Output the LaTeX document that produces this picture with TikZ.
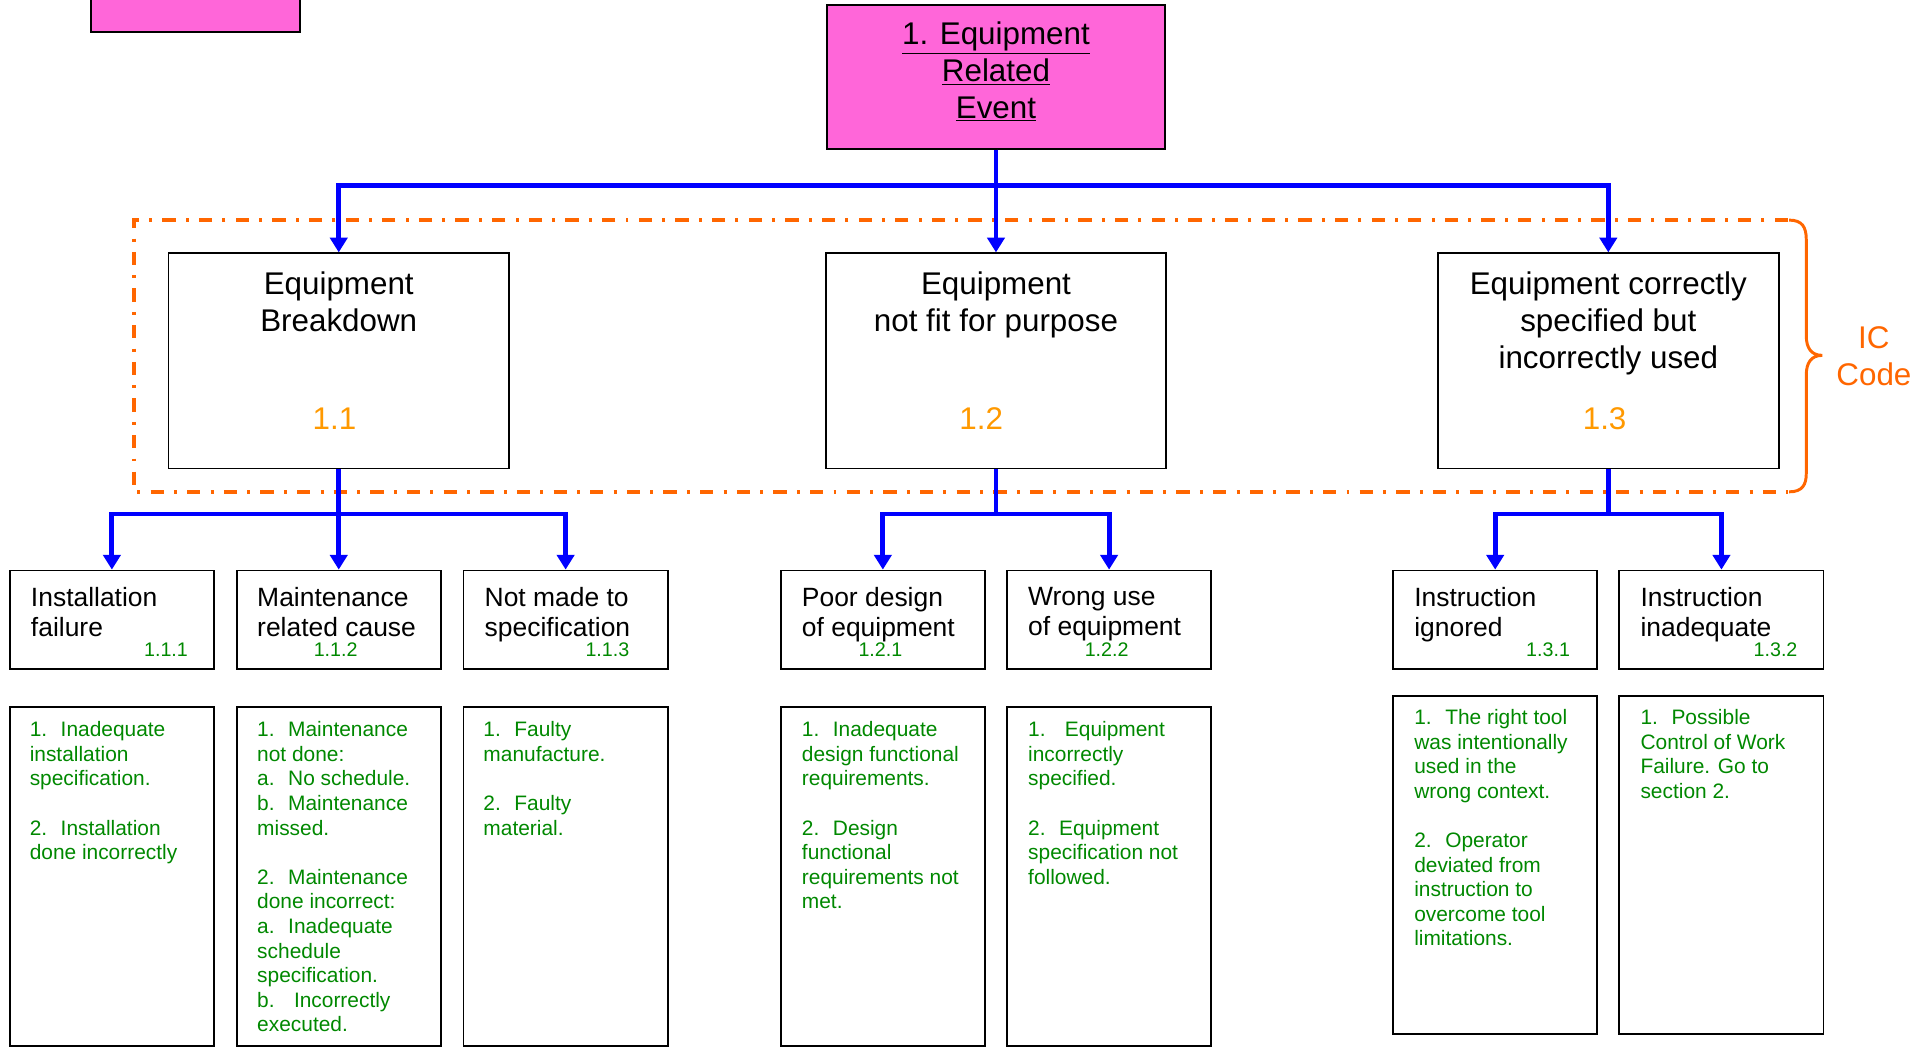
\documentclass[tikz,border=0pt]{standalone}
\usepackage{fontspec}
\setmainfont{Liberation Sans}
\usetikzlibrary{arrows.meta}

\definecolor{rootpink}{RGB}{255,102,217}
\definecolor{linkblue}{RGB}{0,0,255}
\definecolor{icorange}{RGB}{255,102,0}
\definecolor{codeorange}{RGB}{255,153,0}
\definecolor{notegreen}{RGB}{0,136,0}

\begin{document}
\begin{tikzpicture}[x=1pt, y=-1pt,
        box/.style={draw, line width=1.5pt, inner sep=0pt},
        mainbox/.style={box, minimum width=277pt, minimum height=175pt},
        causebox/.style={box, minimum width=166pt, minimum height=80pt},
        listbox/.style={box, minimum width=166pt, minimum height=276pt},
        link/.style={draw=linkblue, line width=4pt, -{Triangle[width=14pt,length=12pt]}},
        head/.style={anchor=north, align=center, inner sep=0pt, font=\fontsize{25.5}{30}\selectfont},
        cause/.style={anchor=north west, align=left, inner sep=0pt, font=\fontsize{21.5}{25}\selectfont},
        note/.style={anchor=north west, align=left, inner sep=0pt, text=notegreen, font=\fontsize{17}{20}\selectfont},
        code/.style={anchor=base, inner sep=0pt, text=notegreen, font=\fontsize{16}{19}\selectfont}]
        \useasboundingbox (0,0) rectangle (1568,852.3);

        % legend box
        \node[box, fill=rootpink, minimum width=170pt, minimum height=31pt] (legend) at (159,10.5) {};

        % root box
        \node[box, fill=rootpink, minimum width=275pt, minimum height=117pt] (root) at (810,62.5) {};
        \node[head] (roottext) at (810,17.8) {\underline{1. Equipment}\\\underline{Related}\\\underline{Event}};

        % IC code frame
        \draw[icorange, line width=2.7pt, dash pattern=on 10.8pt off 8.3pt on 2.4pt off 8.3pt]
            (1454,179) -- (109,179) -- (109,400) -- (1454,400);
        \draw[icorange, line width=2.4pt] (1455,179) .. controls (1466,179) and (1469,185) .. (1469,195)
            -- (1469,273) .. controls (1469,283) and (1473,289) .. (1482,289)
            .. controls (1473,289) and (1469,295) .. (1469,305)
            -- (1469,385) .. controls (1469,394) and (1466,400) .. (1455,400);
        \node[head, text=icorange] (iclabel) at (1524,265.8) {IC\\Code};

        % box 1.1
        \node[mainbox] (eb) at (275.5,293.5) {};
        \node[head] (ebtext) at (275.5,220.8) {Equipment\\Breakdown};
        \node[head, anchor=base, text=codeorange] (ebcode) at (272,349) {1.1};

        % box 1.2
        \node[mainbox] (enf) at (810,293.5) {};
        \node[head] (enftext) at (810,220.8) {Equipment\\not fit for purpose};
        \node[head, anchor=base, text=codeorange] (enfcode) at (798,349) {1.2};

        % box 1.3
        \node[mainbox] (ecs) at (1308,293.5) {};
        \node[head] (ecstext) at (1308,220.8) {Equipment correctly\\specified but\\incorrectly used};
        \node[head, anchor=base, text=codeorange] (ecscode) at (1305,349) {1.3};

        % links from root
        \coordinate (bus0) at (810,151);
        \draw[link] (root.south) -- (bus0) -| (eb.north);
        \draw[link] (root.south) -- (bus0) -| (ecs.north);
        \draw[link] (root.south) -- (enf.north);

        % causes 1.1.x
        \node[causebox] (c111) at (91,504) {};
        \node[cause] (c111text) at (25,477.2) {Installation\\failure};
        \node[code] (c111code) at (135,533.7) {1.1.1};
        \node[causebox] (c112) at (275.5,504) {};
        \node[cause] (c112text) at (209,477.2) {Maintenance\\related cause};
        \node[code] (c112code) at (273,533.7) {1.1.2};
        \node[causebox] (c113) at (460,504) {};
        \node[cause] (c113text) at (394,477.2) {Not made to\\specification};
        \node[code] (c113code) at (494,533.7) {1.1.3};

        % causes 1.2.x
        \node[causebox] (c121) at (718,504) {};
        \node[cause] (c121text) at (652,477.2) {Poor design\\of equipment};
        \node[code] (c121code) at (716,533.7) {1.2.1};
        \node[causebox] (c122) at (902,504) {};
        \node[cause] (c122text) at (836,477.2) {Wrong use\\of equipment};
        \node[code] (c122code) at (900,533.7) {1.2.2};

        % causes 1.3.x
        \node[causebox] (c131) at (1216,504) {};
        \node[cause] (c131text) at (1150,477.2) {Instruction\\ignored};
        \node[code] (c131code) at (1259,533.7) {1.3.1};
        \node[causebox] (c132) at (1400,504) {};
        \node[cause] (c132text) at (1334,477.2) {Instruction\\inadequate};
        \node[code] (c132code) at (1444,533.7) {1.3.2};

        % links to causes
        \coordinate (bus1) at (275.5,418);
        \draw[link] (eb.south) -- (bus1) -| (c111.north);
        \draw[link] (eb.south) -- (bus1) -| (c113.north);
        \draw[link] (eb.south) -- (c112.north);
        \coordinate (bus2) at (810,418);
        \draw[link] (enf.south) -- (bus2) -| (c121.north);
        \draw[link] (enf.south) -- (bus2) -| (c122.north);
        \coordinate (bus3) at (1308,418);
        \draw[link] (ecs.south) -- (bus3) -| (c131.north);
        \draw[link] (ecs.south) -- (bus3) -| (c132.north);

        % notes
        \node[listbox] (n111) at (91,713) {};
        \node[note] (n111text) at (24,586.7) {1.~ Inadequate\\installation\\specification.\\[20pt]2.~ Installation\\done incorrectly};
        \node[listbox] (n112) at (275.5,713) {};
        \node[note] (n112text) at (209,586.7) {1.~ Maintenance\\not done:\\a.~ No schedule.\\b.~ Maintenance\\missed.\\[20pt]2.~ Maintenance\\done incorrect:\\a.~ Inadequate\\schedule\\specification.\\b.~~ Incorrectly\\executed.};
        \node[listbox] (n113) at (460,713) {};
        \node[note] (n113text) at (393,586.7) {1.~ Faulty\\manufacture.\\[20pt]2.~ Faulty\\material.};
        \node[listbox] (n121) at (718,713) {};
        \node[note] (n121text) at (652,586.7) {1.~ Inadequate\\design functional\\requirements.\\[20pt]2.~ Design\\functional\\requirements not\\met.};
        \node[listbox] (n122) at (902,713) {};
        \node[note] (n122text) at (836,586.7) {1.~~ Equipment\\incorrectly\\specified.\\[20pt]2.~ Equipment\\specification not\\followed.};
        \node[listbox, minimum height=275pt] (n131) at (1216,703.5) {};
        \node[note] (n131text) at (1150,576.7) {1.~ The right tool\\was intentionally\\used in the\\wrong context.\\[20pt]2.~ Operator\\deviated from\\instruction to\\overcome tool\\limitations.};
        \node[listbox, minimum height=275pt] (n132) at (1400,703.5) {};
        \node[note] (n132text) at (1334,576.7) {1.~ Possible\\Control of Work\\Failure. Go to\\section 2.};
\end{tikzpicture}
\end{document}
